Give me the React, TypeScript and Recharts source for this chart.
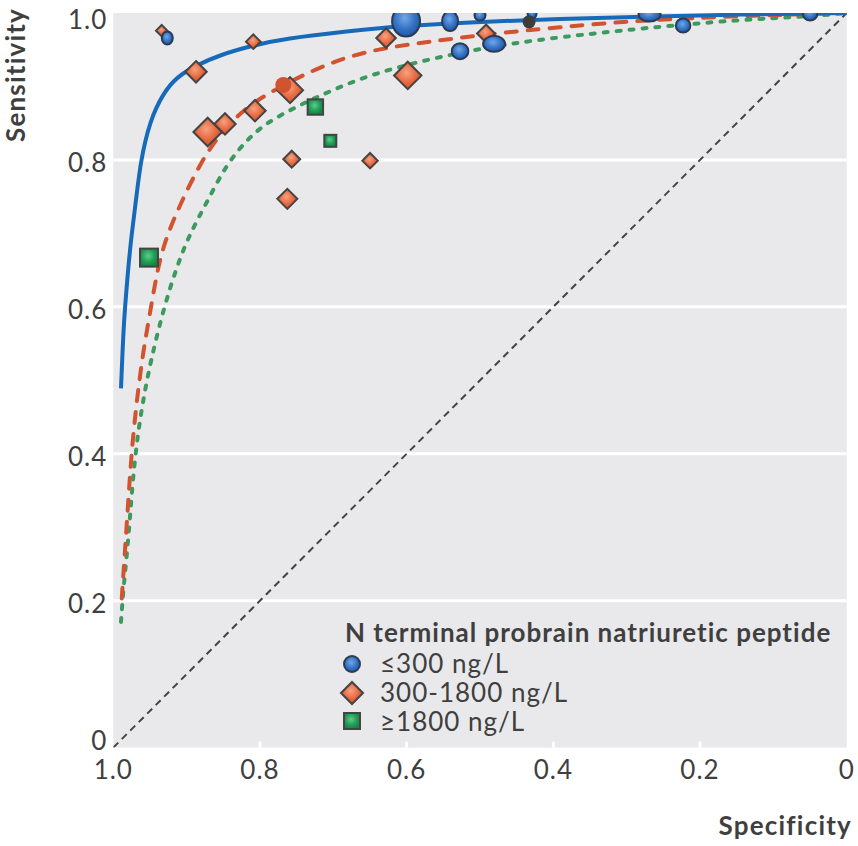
import React from 'react';
import { ComposedChart, Line, Scatter, XAxis, YAxis, CartesianGrid, Legend } from 'recharts';

const tickValues = [0, 0.2, 0.4, 0.6, 0.8, 1];
const tickLabels = ['0', '0.2', '0.4', '0.6', '0.8', '1.0'];
const groupLabels = ['≤300 ng/L', '300-1800 ng/L', '≥1800 ng/L'];
const legendTitle = 'N terminal probrain natriuretic peptide';

// chance line
const diagonal = [
  { x: 1, y: 0 },
  { x: 0, y: 1 },
];

// SROC curves (x = specificity, y = sensitivity)
const curveLow = [
  { x: 0.9895, y: 0.489 }, { x: 0.9864, y: 0.564 }, { x: 0.984, y: 0.6 },
  { x: 0.9795, y: 0.655 }, { x: 0.9749, y: 0.7 }, { x: 0.969, y: 0.745 },
  { x: 0.9629, y: 0.798 }, { x: 0.95, y: 0.854 }, { x: 0.9318, y: 0.891 },
  { x: 0.9135, y: 0.913 }, { x: 0.8863, y: 0.929 }, { x: 0.8545, y: 0.943 },
  { x: 0.8091, y: 0.956 }, { x: 0.7659, y: 0.965 }, { x: 0.6817, y: 0.975 },
  { x: 0.6, y: 0.983 }, { x: 0.5, y: 0.988 }, { x: 0.3909, y: 0.992 },
  { x: 0.2818, y: 0.995 }, { x: 0.1455, y: 0.998 }, { x: 0, y: 1 },
];

const curveMid = [
  { x: 0.9885, y: 0.203 }, { x: 0.984, y: 0.269 }, { x: 0.9795, y: 0.337 },
  { x: 0.9749, y: 0.405 }, { x: 0.968, y: 0.473 }, { x: 0.959, y: 0.541 },
  { x: 0.95, y: 0.591 }, { x: 0.9408, y: 0.646 }, { x: 0.9295, y: 0.691 },
  { x: 0.909, y: 0.739 }, { x: 0.8818, y: 0.795 }, { x: 0.8545, y: 0.836 },
  { x: 0.8227, y: 0.868 }, { x: 0.7863, y: 0.893 }, { x: 0.7045, y: 0.934 },
  { x: 0.6363, y: 0.952 }, { x: 0.568, y: 0.961 }, { x: 0.5, y: 0.97 },
  { x: 0.391, y: 0.981 }, { x: 0.2818, y: 0.99 }, { x: 0.1455, y: 0.996 },
  { x: 0, y: 1 },
];

const curveHigh = [
  { x: 0.9895, y: 0.171 }, { x: 0.9864, y: 0.215 }, { x: 0.9817, y: 0.26 },
  { x: 0.9772, y: 0.314 }, { x: 0.9727, y: 0.373 }, { x: 0.9659, y: 0.432 },
  { x: 0.958, y: 0.48 }, { x: 0.9486, y: 0.528 }, { x: 0.9318, y: 0.596 },
  { x: 0.9135, y: 0.655 }, { x: 0.8954, y: 0.7 }, { x: 0.872, y: 0.743 },
  { x: 0.8454, y: 0.795 }, { x: 0.8136, y: 0.832 }, { x: 0.7863, y: 0.854 },
  { x: 0.7273, y: 0.884 }, { x: 0.659, y: 0.913 }, { x: 0.591, y: 0.932 },
  { x: 0.5227, y: 0.947 }, { x: 0.4545, y: 0.959 }, { x: 0.391, y: 0.967 },
  { x: 0.2818, y: 0.979 }, { x: 0.1455, y: 0.991 }, { x: 0.0545, y: 0.995 },
  { x: 0, y: 1 },
];

// individual studies; nPos/nNeg (or n) are the study weights
const studiesLow = [
  { x: 0.9264, y: 0.966, nNeg: 169, nPos: 225 },
  { x: 0.6008, y: 0.989, nNeg: 900, nPos: 1089 },
  { x: 0.5408, y: 0.989, nNeg: 324, nPos: 484 },
  { x: 0.5, y: 0.997, nNeg: 169, nPos: 169 },
  { x: 0.429, y: 1.0, nNeg: 121, nPos: 196 },
  { x: 0.5272, y: 0.948, nNeg: 346, nPos: 324 },
  { x: 0.4808, y: 0.958, nNeg: 576, nPos: 324 },
  { x: 0.2688, y: 0.998, nNeg: 576, nPos: 256 },
  { x: 0.2231, y: 0.983, nNeg: 276, nPos: 256 },
  { x: 0.0499, y: 0.999, nNeg: 276, nPos: 243 },
];

const studiesMid = [
  { x: 0.934, y: 0.976, n: 180 },
  { x: 0.8872, y: 0.92, n: 548 },
  { x: 0.8091, y: 0.961, n: 276 },
  { x: 0.8713, y: 0.838, n: 936 },
  { x: 0.8477, y: 0.849, n: 548 },
  { x: 0.8068, y: 0.867, n: 548 },
  { x: 0.759, y: 0.895, n: 784 },
  { x: 0.7567, y: 0.801, n: 361 },
  { x: 0.7627, y: 0.747, n: 484 },
  { x: 0.6499, y: 0.799, n: 303 },
  { x: 0.6281, y: 0.966, n: 467 },
  { x: 0.5985, y: 0.915, n: 864 },
  { x: 0.4918, y: 0.972, n: 400 },
];

const studiesHigh = [
  { x: 0.9513, y: 0.667, n: 400 },
  { x: 0.7245, y: 0.872, n: 303 },
  { x: 0.7041, y: 0.826, n: 196 },
];

// summary operating points
const summaryLow = [{ x: 0.4331, y: 0.988 }];
const summaryMid = [{ x: 0.7682, y: 0.902 }];

const FONT = 'Lato, "Open Sans", sans-serif';
const INK = '#3f3f3f';
const BLUE = '#1769b9';
const RED = '#d2532f';
const GREEN = '#3d9a5f';

const rad = (n: number) => Math.sqrt(n) / 2 - 1;
const label = (v: number) => tickLabels[tickValues.indexOf(v)];

const XTick = ({ x, y, payload }: any) => {
  const inner = payload.value > 0 && payload.value < 1;
  return (
    <g>
      {inner && <line x1={x} x2={x} y1={y} y2={y - 6} stroke="#fff" strokeWidth={3} />}
      <text x={x} y={y + 21} textAnchor="middle" dominantBaseline="central" fill={INK} fontSize={26} letterSpacing={1} fontFamily={FONT}>
        {label(payload.value)}
      </text>
    </g>
  );
};

const YTick = ({ x, y, payload }: any) => {
  const dy = payload.value === 1 ? 6 : payload.value === 0 ? -8 : 2;
  return (
    <text x={x} y={y + dy} textAnchor="end" dominantBaseline="central" fill={INK} fontSize={26} letterSpacing={1} fontFamily={FONT}>
      {label(payload.value)}
    </text>
  );
};

const EllipseDot = ({ cx, cy, payload }: any) => (
  <ellipse cx={cx} cy={cy} rx={rad(payload.nNeg)} ry={rad(payload.nPos)} fill="url(#gBlue)" stroke="#2b3b52" strokeWidth={2} />
);

const DiamondDot = ({ cx, cy, payload }: any) => {
  const h = rad(payload.n);
  return (
    <path d={`M${cx},${cy - h}L${cx + h},${cy}L${cx},${cy + h}L${cx - h},${cy}Z`} fill="url(#gOrange)" stroke="#444" strokeWidth={2} />
  );
};

const SquareDot = ({ cx, cy, payload }: any) => {
  const h = rad(payload.n);
  return <rect x={cx - h} y={cy - h} width={2 * h} height={2 * h} fill="url(#gGreen)" stroke="#444" strokeWidth={2} />;
};

const SummaryMidDot = ({ cx, cy }: any) => <circle cx={cx} cy={cy} r={8} fill={RED} />;
const SummaryLowDot = ({ cx, cy }: any) => <circle cx={cx} cy={cy} r={6.5} fill="#3d3d3d" />;

const LegendBox = () => (
  <svg width={520} height={130} style={{ display: 'block', overflow: 'visible' }}>
    <text x={10} y={30} fontSize={26} fontWeight={700} letterSpacing={1} fontFamily={FONT} fill={INK}>
      {legendTitle}
    </text>
    <ellipse cx={17} cy={52} rx={8} ry={8} fill="url(#gBlue)" stroke="#2b3b52" strokeWidth={2} />
    <path d="M17,70L28,81L17,92L6,81Z" fill="url(#gOrange)" stroke="#444" strokeWidth={2} />
    <rect x={9} y={101} width={16} height={16} fill="url(#gGreen)" stroke="#444" strokeWidth={2} />
    {groupLabels.map((g, i) => (
      <text key={g} x={45} y={61 + i * 29} fontSize={26} letterSpacing={1} fontFamily={FONT} fill={INK}>
        {g}
      </text>
    ))}
  </svg>
);

export default function App() {
  return (
    <div style={{ position: 'absolute', left: 0, top: 0, width: 858, height: 846 }}>
      <ComposedChart width={858} height={846} margin={{ top: 13, right: 11.3, bottom: 58.4, left: 45 }}>
        <CartesianGrid
          vertical={false}
          horizontalValues={[0.2, 0.4, 0.6, 0.8]}
          fill="#e9e9eb"
          fillOpacity={1}
          stroke="#fff"
          strokeWidth={3}
        />
        <XAxis
          type="number"
          dataKey="x"
          domain={[0, 1]}
          reversed
          ticks={tickValues}
          tick={<XTick />}
          tickSize={0}
          tickMargin={0}
          axisLine={false}
          tickLine={false}
          height={40}
          allowDataOverflow
        />
        <YAxis
          type="number"
          dataKey="y"
          domain={[0, 1]}
          ticks={tickValues}
          tick={<YTick />}
          tickSize={0}
          tickMargin={6}
          axisLine={false}
          tickLine={false}
          width={68.3}
          allowDataOverflow
        />
        <Legend
          layout="horizontal"
          verticalAlign="middle"
          align="center"
          content={<LegendBox />}
          wrapperStyle={{ left: 335, top: 612, width: 520, height: 130 }}
        />
        <Line data={diagonal} dataKey="y" type="linear" stroke="#444" strokeWidth={2} strokeDasharray="7 5" dot={false} activeDot={false} isAnimationActive={false} legendType="none" />
        <Line data={curveHigh} dataKey="y" type="basis" stroke={GREEN} strokeWidth={4} strokeDasharray="4 9" strokeLinecap="round" dot={false} activeDot={false} isAnimationActive={false} legendType="none" />
        <Line data={curveMid} dataKey="y" type="basis" stroke={RED} strokeWidth={4} strokeDasharray="11 11" strokeLinecap="round" dot={false} activeDot={false} isAnimationActive={false} legendType="none" />
        <Line data={curveLow} dataKey="y" type="basis" stroke={BLUE} strokeWidth={4} dot={false} activeDot={false} isAnimationActive={false} legendType="none" />
        <Scatter data={studiesMid} shape={<DiamondDot />} isAnimationActive={false} legendType="none" />
        <Scatter data={studiesHigh} shape={<SquareDot />} isAnimationActive={false} legendType="none" />
        <Scatter data={studiesLow} shape={<EllipseDot />} isAnimationActive={false} legendType="none" />
        <Scatter data={summaryMid} shape={<SummaryMidDot />} isAnimationActive={false} legendType="none" />
        <Scatter data={summaryLow} shape={<SummaryLowDot />} isAnimationActive={false} legendType="none" />
      </ComposedChart>
      <svg width={858} height={846} style={{ position: 'absolute', left: 0, top: 0, pointerEvents: 'none' }}>
        <defs>
          <radialGradient id="gBlue" cx="45%" cy="40%" r="60%">
            <stop offset="0%" stopColor="#74a6e6" />
            <stop offset="60%" stopColor="#3573c6" />
            <stop offset="100%" stopColor="#1f57a6" />
          </radialGradient>
          <radialGradient id="gOrange" cx="45%" cy="40%" r="60%">
            <stop offset="0%" stopColor="#f6a27f" />
            <stop offset="60%" stopColor="#e7683f" />
            <stop offset="100%" stopColor="#d4522c" />
          </radialGradient>
          <radialGradient id="gGreen" cx="45%" cy="40%" r="60%">
            <stop offset="0%" stopColor="#5ccf8b" />
            <stop offset="60%" stopColor="#1f9d55" />
            <stop offset="100%" stopColor="#148345" />
          </radialGradient>
        </defs>
        <text
          transform="translate(25,75) rotate(-90)"
          textAnchor="middle"
          fontSize={26}
          fontWeight={700}
          letterSpacing={1.2}
          fontFamily={FONT}
          fill={INK}
        >
          Sensitivity
        </text>
        <text x={852} y={835} textAnchor="end" fontSize={26} fontWeight={700} letterSpacing={1.2} fontFamily={FONT} fill={INK}>
          Specificity
        </text>
      </svg>
    </div>
  );
}
